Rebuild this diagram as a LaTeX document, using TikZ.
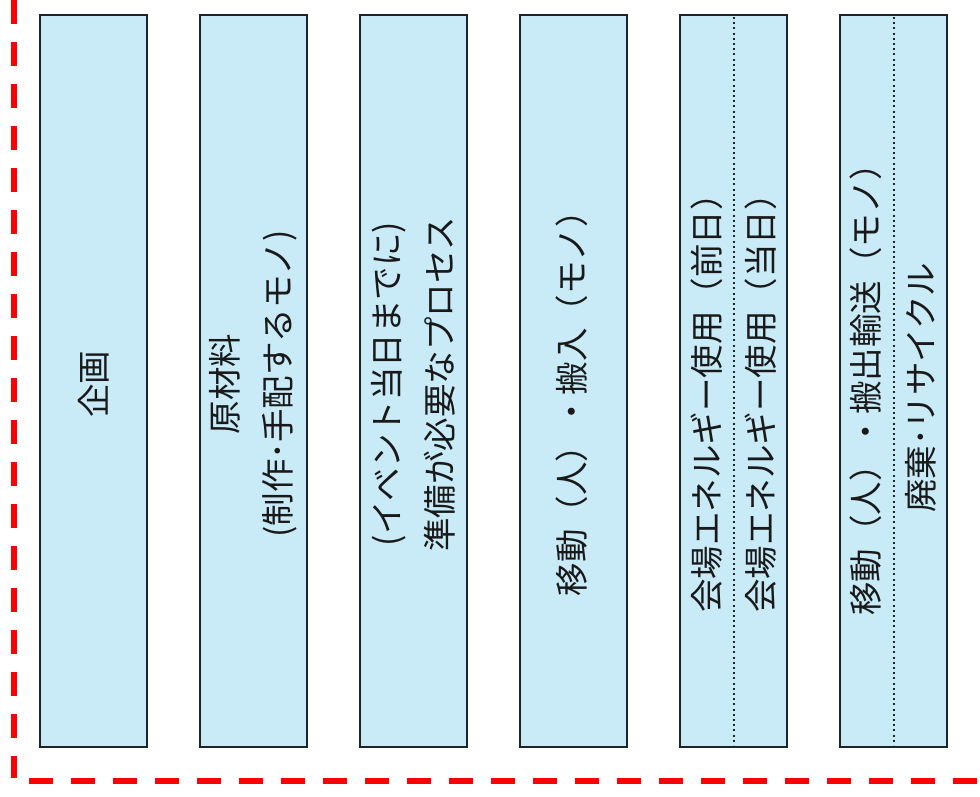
\documentclass[tikz,border=0pt]{standalone}
\usepackage{fontspec}
\newfontfamily\jp{Noto Sans CJK JP}
\definecolor{boxfill}{HTML}{C9EAF7}
\definecolor{boxline}{HTML}{1E2428}
\tikzset{
  colbox/.style={draw=boxline, line width=1.8pt, fill=boxfill},
  sep/.style={draw=boxline, line width=2pt, dash pattern=on 2pt off 3.2pt},
  lbl/.style={font=\jp\fontsize{33.5}{53}\selectfont, rotate=90, align=center, inner sep=0pt, text=black!90},
  frame/.style={draw=red, line width=5.5pt, dash pattern=on 24pt off 18pt}
}
\begin{document}
\begin{tikzpicture}[x=1pt,y=-1pt]
\useasboundingbox (0,0) rectangle (980,796);
% boxes
\foreach \i/\x in {1/40,2/200,3/360,4/520,5/680,6/840}{
  \path[colbox] (\x,15) rectangle ++(107,732);
  \coordinate (b\i) at (\x+53.5,384);
}
\draw[sep] (734,17) -- (734,745);
\draw[sep] (894,17) -- (894,745);
% labels
\node[lbl] (t1) at (b1) {企画};
\node[lbl] (t2) at (b2) {原材料\\(制作･手配するモノ)};
\node[lbl] (t3) at (b3) {(イベント当日までに)\\準備が必要なプロセス};
\node[lbl] (t4) at (572,395) {移動（人）・搬入（モノ）};
\node[lbl] (t5a) at (707,395) {会場エネルギー使用（前日）};
\node[lbl] (t5b) at (761,395) {会場エネルギー使用（当日）};
\node[lbl] (t6a) at (866,381) {移動（人）・搬出輸送（モノ）};
\node[lbl] (t6b) at (921,388) {廃棄･リサイクル};
% red dashed frame (left and bottom)
\coordinate (fl0) at (14,0);
\coordinate (fl1) at (14,778);
\coordinate (fb0) at (29,781);
\coordinate (fb1) at (980,781);
\draw[frame] (fl0) -- (fl1);
\draw[frame] (fb0) -- (fb1);
\end{tikzpicture}
\end{document}
